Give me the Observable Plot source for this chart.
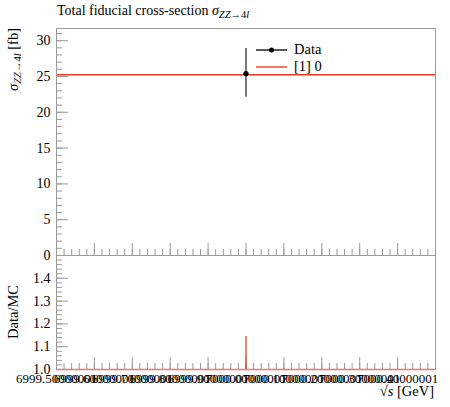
<!DOCTYPE html>
<html>
<head>
<meta charset="utf-8">
<script src="https://cdn.jsdelivr.net/npm/d3@7"></script>
<script src="https://cdn.jsdelivr.net/npm/@observablehq/plot@0.6"></script>
<style>
  html, body { margin: 0; padding: 0; background: #fff; }
  #wrap { position: relative; width: 450px; height: 407px; font-family: "Liberation Serif", "DejaVu Serif", serif; color: #000; overflow: hidden; }
  #wrap > svg { position: absolute; left: 0; }
  .title { position: absolute; left: 57px; top: 3px; font-size: 14px; white-space: nowrap; }
  .rot { position: absolute; transform-origin: top left; transform: rotate(-90deg); font-size: 14.5px; white-space: nowrap; line-height: 16px; }
  .xlab { position: absolute; right: 16px; top: 383px; font-size: 14.5px; white-space: nowrap; }
  .legend { position: absolute; left: 256px; top: 41px; font-size: 14.5px; }
  .legend div { display: flex; align-items: center; height: 17px; }
  .legend svg { margin-right: 7px; }
  sub { font-size: 10.5px; vertical-align: -3px; line-height: 0; }
</style>
</head>
<body>
<div id="wrap"></div>
<script>
// ---- data ----
const energies = [7000];                 // sqrt(s) [GeV]
const dataValues = [25.4];               // sigma ZZ->4l [fb]
const dataLow = [22.1];
const dataHigh = [28.9];
const mcValues = [25.25];                // [1] 0 prediction
const ratioLow = [1.0];
const ratioHigh = [1.145];

// ---- axes / ticks ----
const xDomain = [6999.5, 7000.5];
const xMajor = [6999.5, 6999.6, 6999.7, 6999.8, 6999.9, 7000.0, 7000.1, 7000.2, 7000.3, 7000.4, 7000.5];
const xTickLabels = ["6999.50000001", "6999.60000001", "6999.70000001", "6999.80000001", "6999.90000001",
  "7000.00000001", "7000.10000001", "7000.20000001", "7000.30000001", "7000.40000001", ""];
const yTopDomain = [0, 31.7];
const yTopMajor = [0, 5, 10, 15, 20, 25, 30];
const yTopLabels = ["0", "5", "10", "15", "20", "25", "30"];
const yRatioDomain = [1.0, 1.5];
const yRatioMajor = [1.0, 1.1, 1.2, 1.3, 1.4];
const yRatioLabels = ["1.0", "1.1", "1.2", "1.3", "1.4"];

const xMinor = d3.range(0, 51).map(i => 6999.5 + i * 0.02);
const yTopMinor = d3.range(0, 32);
const yRatioMinor = d3.range(0, 26).map(i => 1.0 + i * 0.02);

const GRAY = "#9a9a9a";
const RED = "#ee3a22";
const xLabelMap = new Map(xMajor.map((v, i) => [v.toFixed(2), xTickLabels[i]]));
const yTopLabelMap = new Map(yTopMajor.map((v, i) => [v, yTopLabels[i]]));
const yRatioLabelMap = new Map(yRatioMajor.map((v, i) => [v.toFixed(2), yRatioLabels[i]]));

const rows = energies.map((x, i) => ({x, y: dataValues[i], lo: dataLow[i], hi: dataHigh[i]}));
const ratioRows = energies.map((x, i) => ({x, lo: ratioLow[i], hi: ratioHigh[i]}));

const plotStyle = {fontFamily: "'Liberation Serif', 'DejaVu Serif', serif", fontSize: "14px", background: "transparent", overflow: "visible"};

function tickMarks(xMin, xMaj, yMin, yMaj) {
  return [
    Plot.axisX(xMin, {anchor: "bottom", tickSize: 6, dy: -6, fill: "none", stroke: GRAY, label: null}),
    Plot.axisX(xMaj, {anchor: "bottom", tickSize: 12, dy: -12, fill: "none", stroke: GRAY, label: null}),
    Plot.axisY(yMin, {anchor: "left", tickSize: 6, dx: 6, fill: "none", stroke: GRAY, label: null}),
    Plot.axisY(yMaj, {anchor: "left", tickSize: 12, dx: 12, fill: "none", stroke: GRAY, label: null})
  ];
}

const mainPlot = Plot.plot({
  width: 450, height: 256,
  marginTop: 28, marginRight: 15, marginBottom: 1, marginLeft: 56,
  style: plotStyle,
  x: {domain: xDomain},
  y: {domain: yTopDomain},
  marks: [
    ...tickMarks(xMinor, xMajor, yTopMinor, yTopMajor),
    Plot.axisY(yTopMajor, {anchor: "left", tickSize: 0, tickPadding: 6, tickFormat: d => yTopLabelMap.get(d), label: null}),
    Plot.ruleY(mcValues, {stroke: RED, strokeWidth: 1.6}),
    Plot.ruleX(rows, {x: "x", y1: "lo", y2: "hi", stroke: "#222", strokeWidth: 1.2}),
    Plot.dot(rows, {x: "x", y: "y", r: 2.6, fill: "#000", stroke: "none"}),
    Plot.frame({stroke: GRAY})
  ]
});
mainPlot.style.top = "0px";

const ratioPlot = Plot.plot({
  width: 450, height: 153,
  marginTop: 1, marginRight: 15, marginBottom: 38, marginLeft: 56,
  style: plotStyle,
  x: {domain: xDomain},
  y: {domain: yRatioDomain},
  marks: [
    ...tickMarks(xMinor, xMajor, yRatioMinor, yRatioMajor),
    Plot.axisY(yRatioMajor, {anchor: "left", tickSize: 0, tickPadding: 6, tickFormat: d => yRatioLabelMap.get(d.toFixed(2)), label: null}),
    Plot.axisX(xMajor, {anchor: "bottom", tickSize: 0, tickPadding: 4, fontSize: 13, tickFormat: d => xLabelMap.get(d.toFixed(2)), label: null}),
    Plot.ruleX(ratioRows, {x: "x", y1: "lo", y2: "hi", stroke: RED, strokeOpacity: 0.65, strokeWidth: 2}),
    Plot.ruleY(ratioLow, {stroke: RED, strokeOpacity: 0.7, strokeWidth: 1.6}),
    Plot.frame({stroke: GRAY})
  ]
});
ratioPlot.style.top = "254px";

const wrap = document.getElementById("wrap");
wrap.appendChild(mainPlot);
wrap.appendChild(ratioPlot);
wrap.insertAdjacentHTML("beforeend", `
  <div class="title">Total fiducial cross-section <i>σ</i><sub><i>ZZ</i>→4<i>l</i></sub></div>
  <div class="rot" style="left:5px; top:255px; width:227px; text-align:right;"><i>σ</i><sub><i>ZZ</i>→4<i>l</i></sub> [fb]</div>
  <div class="rot" style="left:5px; top:369px; width:114px; text-align:center;">Data/MC</div>
  <div class="xlab">√<span style="text-decoration:overline"><i>s</i></span> [GeV]</div>
  <div class="legend">
    <div><svg width="31" height="10"><line x1="0" y1="5" x2="31" y2="5" stroke="#000" stroke-width="1.3"/><circle cx="15.5" cy="5" r="2.5" fill="#000"/></svg>Data</div>
    <div><svg width="31" height="10"><line x1="0" y1="5" x2="31" y2="5" stroke="${RED}" stroke-width="1.4"/></svg>[1] 0</div>
  </div>
`);
</script>
</body>
</html>
